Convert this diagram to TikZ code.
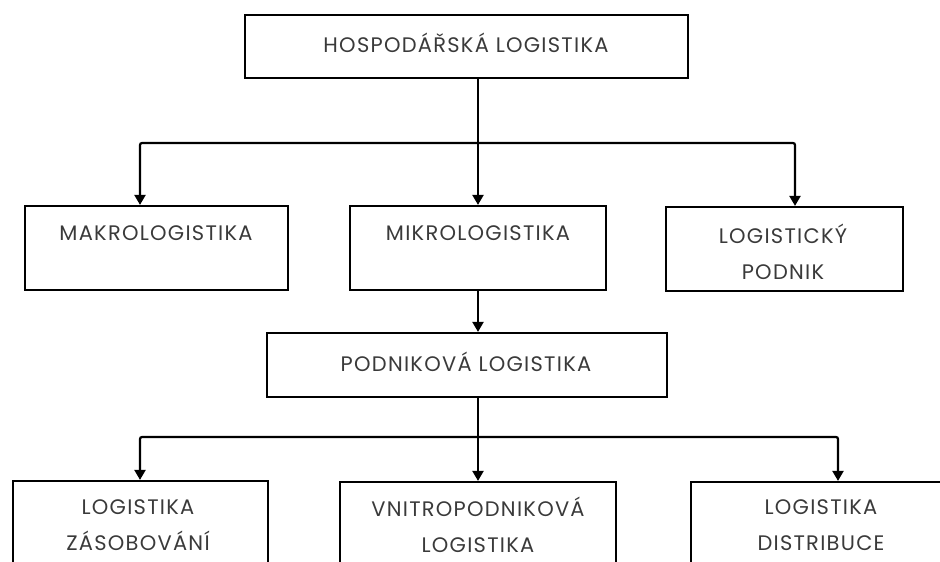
\documentclass[tikz,border=0pt]{standalone}
\usepackage{fontspec}
\setmainfont{Poppins}[LetterSpace=6]
\usetikzlibrary{arrows.meta}
\definecolor{txtgray}{HTML}{3A3A3A}
\begin{document}
\begin{tikzpicture}[x=1pt,y=-1pt,
  box/.style={draw=black, line width=2.2pt, fill=none, inner sep=0pt},
  txt/.style={text=txtgray, font=\fontsize{21}{36}\selectfont, inner sep=0pt, align=center},
  conn/.style={draw=black, line width=2.2pt},
  arr/.style={conn, -{Triangle[width=11pt,length=10pt]}}]
\useasboundingbox (0,0) rectangle (940,562);
\clip (0,0) rectangle (940,562);
% boxes
\node[box, minimum width=443pt, minimum height=63pt] (hosp) at (466.5,46.5) {};
\node[box, minimum width=263pt, minimum height=84pt] (makro) at (156.5,248) {};
\node[box, minimum width=256pt, minimum height=84pt] (mikro) at (478,248) {};
\node[box, minimum width=237pt, minimum height=84pt] (lpod) at (784.5,249) {};
\node[box, minimum width=400pt, minimum height=64pt] (podn) at (467,365) {};
\node[box, minimum width=255pt, minimum height=140pt] (zas) at (140.5,551) {};
\node[box, minimum width=276pt, minimum height=140pt] (vnit) at (478,552) {};
\node[box, minimum width=270pt, minimum height=140pt] (dist) at (826,552) {};
% texts
\node[txt] (thosp) at (466,43) {HOSPODÁŘSKÁ LOGISTIKA};
\node[txt] (tmakro) at (156,233) {MAKROLOGISTIKA};
\node[txt] (tmikro) at (478,233) {MIKROLOGISTIKA};
\node[txt] (tlpod) at (783,252) {LOGISTICKÝ\\PODNIK};
\node[txt] (tpodn) at (466,362) {PODNIKOVÁ LOGISTIKA};
\node[txt] (tzas) at (138,525) {LOGISTIKA\\ZÁSOBOVÁNÍ};
\node[txt] (tvnit) at (478,525) {VNITROPODNIKOVÁ\\LOGISTIKA};
\node[txt] (tdist) at (821,525) {LOGISTIKA\\DISTRIBUCE};
% connectors
\coordinate (j1) at (478,143);
\coordinate (j2) at (478,437);
\draw[conn] (hosp.south -| j1) -- (j1);
\draw[arr, rounded corners=2pt] (j1) -| (makro.north -| 140,0);
\draw[arr] (j1) -- (mikro.north);
\draw[arr, rounded corners=2pt] (j1) -| (lpod.north -| 795,0);
\draw[arr] (mikro.south) -- (podn.north -| mikro.south);
\draw[conn] (podn.south -| j2) -- (j2);
\draw[arr, rounded corners=2pt] (j2) -| (zas.north -| 140,0);
\draw[arr] (j2) -- (vnit.north);
\draw[arr, rounded corners=2pt] (j2) -| (dist.north -| 838,0);
\end{tikzpicture}
\end{document}
